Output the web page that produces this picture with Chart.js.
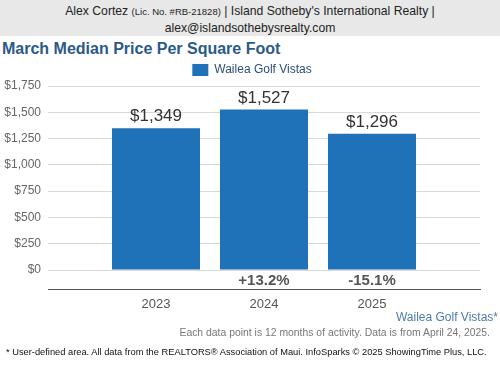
<!DOCTYPE html>
<html>
<head>
<meta charset="utf-8">
<script src="https://cdn.jsdelivr.net/npm/chart.js@4"></script>
<style>
  body { margin: 0; width: 500px; height: 375px; background: #fff; font-family: "Liberation Sans", Arial, sans-serif; position: relative; overflow: hidden; }
  .header { position: absolute; top: 0; left: 0; width: 500px; height: 36px; background: #e8e8e8; text-align: center; font-size: 12.2px; line-height: 16px; color: #222; padding-top: 3px; box-sizing: border-box; }
  .header small { font-size: 9.5px; }
  .title { position: absolute; top: 40px; left: 2px; font-size: 16px; font-weight: bold; color: #2b5a89; }
  .wrap { position: absolute; top: 58px; left: 0; width: 500px; height: 256px; }
  .area { position: absolute; top: 310px; right: 2px; font-size: 12px; color: #4d7bab; }
  .note { position: absolute; top: 327px; right: 10px; font-size: 10.4px; color: #777; }
  .src { position: absolute; top: 347px; left: 6px; font-size: 9.3px; color: #111; white-space: nowrap; }
</style>
</head>
<body>
<div class="header">Alex Cortez <small>(Lic. No. #RB-21828)</small> | Island Sotheby's International Realty |<br>alex@islandsothebysrealty.com</div>
<div class="title">March Median Price Per Square Foot</div>
<div class="wrap"><canvas id="priceChart" width="500" height="256"></canvas></div>
<div class="area">Wailea Golf Vistas*</div>
<div class="note">Each data point is 12 months of activity. Data is from April 24, 2025.</div>
<div class="src">* User-defined area. All data from the REALTORS® Association of Maui. InfoSparks © 2025 ShowingTime Plus, LLC.</div>
<script>
const years = ['2023', '2024', '2025'];
const medianPrice = [1349, 1527, 1296];
const changeLabels = ['', '+13.2%', '-15.1%'];
const yTicks = [0, 250, 500, 750, 1000, 1250, 1500, 1750];

// pad with an empty slot on each side so the bars sit inside the wide grid
const labels = [''].concat(years, ['']);
const values = [null].concat(medianPrice, [null]);
const changes = [''].concat(changeLabels, ['']);

const money = v => '$' + v.toLocaleString('en-US');

const barLabels = {
  id: 'barLabels',
  afterLayout(chart) {
    // legend is centred on the page, not on the padded box
    chart.legend.left += 12;
    chart.legend.right += 12;
    chart.legend.adjustHitBoxes();
  },
  afterDatasetsDraw(chart) {
    const ctx = chart.ctx;
    const meta = chart.getDatasetMeta(0);
    const bottom = chart.chartArea.bottom;
    const zero = chart.scales.y.getPixelForValue(0);
    ctx.save();
    ctx.textAlign = 'center';
    meta.data.forEach((bar, i) => {
      if (values[i] == null) return;
      ctx.font = '17px "Liberation Sans", Arial';
      ctx.fillStyle = '#333';
      ctx.textBaseline = 'bottom';
      ctx.fillText(money(values[i]), bar.x, bar.y - 3);
      if (changes[i]) {
        ctx.font = 'bold 15px "Liberation Sans", Arial';
        ctx.fillStyle = '#555';
        ctx.textBaseline = 'middle';
        ctx.fillText(changes[i], bar.x, (zero + bottom) / 2 + 1);
      }
    });
    ctx.restore();
  }
};

const chartElem = document.getElementById('priceChart').getContext('2d');

new Chart(chartElem, {
  type: 'bar',
  data: {
    labels: labels,
    datasets: [{
      label: 'Wailea Golf Vistas',
      data: values,
      backgroundColor: '#1f72b8',
      barPercentage: 0.815,
      categoryPercentage: 1
    }]
  },
  options: {
    responsive: false,
    animation: false,
    layout: { padding: { left: 0, right: 20, top: 0, bottom: 0 } },
    plugins: {
      legend: {
        display: true,
        labels: {
          boxWidth: 16,
          boxHeight: 12,
          color: '#2c4f77',
          font: { size: 12, family: '"Liberation Sans", Arial' },
          padding: 6
        }
      },
      tooltip: { enabled: false }
    },
    scales: {
      x: {
        offset: false,
        grid: { display: false },
        border: { display: true, color: '#555', width: 1 },
        ticks: { color: '#555', font: { size: 13, family: '"Liberation Sans", Arial' }, padding: 0, maxRotation: 0 },
        afterFit(scale) { scale.height = 25; }
      },
      y: {
        min: -180,
        max: 1750,
        afterBuildTicks(scale) { scale.ticks = yTicks.map(v => ({ value: v })); },
        grid: { color: '#d8d8d8', drawTicks: false },
        border: { display: false },
        ticks: { color: '#666', font: { size: 12, family: '"Liberation Sans", Arial' }, padding: 7, callback: v => money(v) },
        afterFit(scale) { scale.width = 48; }
      }
    }
  },
  plugins: [barLabels]
});
</script>
</body>
</html>
